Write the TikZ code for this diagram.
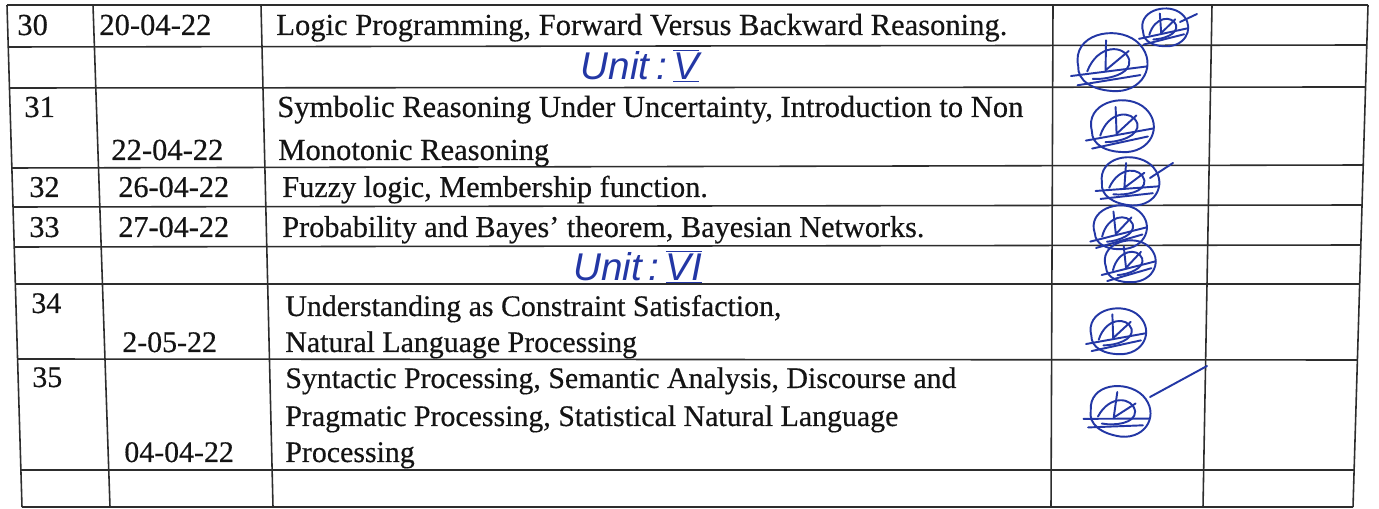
\documentclass[tikz,border=0pt]{standalone}
\usepackage{fontspec}
\setmainfont{Liberation Serif}[FakeBold=0.4]
\newfontfamily\handfont{Liberation Sans}
\definecolor{ink}{RGB}{35,55,165}
\definecolor{gridc}{RGB}{45,45,45}
\definecolor{txt}{RGB}{20,20,20}
\newcommand\barnum[1]{\ensuremath{\overline{\underline{\hbox{#1}}}}}
\tikzset{
  gridline/.style={draw=gridc, line width=0.9pt},
  celltop/.style={anchor=base west, inner sep=0pt, text=txt, font=\fontsize{17.4}{20}\selectfont},
  cellmid/.style={celltop, font=\fontsize{17.2}{20}\selectfont},
  celllow/.style={celltop, font=\fontsize{17}{20}\selectfont},
  hand/.style={anchor=center, inner sep=0pt, text=ink, font=\handfont\itshape\fontsize{22}{26}\selectfont},
  sigpen/.style={draw=ink, line width=1.1pt, line cap=round, line join=round},
  sig/.pic={
    \draw[sigpen] (-22,8) .. controls (-32,-12) and (-5,-26) .. (12,-19) .. controls (30,-11) and (28,12) .. (8,18) .. controls (-8,22) and (-20,18) .. (-22,8);
    \draw[sigpen] (-15,10) .. controls (-13,-10) and (5,-15) .. (11,-5) .. controls (15,4) and (0,12) .. (-10,14);
    \draw[sigpen] (-8,-14) -- (-3,6) -- (9,-11);
    \draw[sigpen] (-25,16) -- (24,-4);
    \draw[sigpen] (-19,21) -- (21,3);
  }
}
\begin{document}
\begin{tikzpicture}[x=0.02cm,y=-0.02cm]
\useasboundingbox[fill=white] (0,0) rectangle (1379,509);
% vertical rules
\coordinate (v0t) at (7,5);    \coordinate (v0b) at (22,507);
\coordinate (v1t) at (93,5);   \coordinate (v1b) at (110,507);
\coordinate (v2t) at (261,5);  \coordinate (v2b) at (273,507);
\coordinate (v3t) at (1053,5); \coordinate (v3b) at (1051,507);
\coordinate (v4t) at (1212,5); \coordinate (v4b) at (1203,507);
\coordinate (v5t) at (1368,5); \coordinate (v5b) at (1353,507);
\foreach \i in {0,...,5} \draw[gridline] (v\i t) -- (v\i b);
% horizontal rules
\foreach \xl/\yl/\xr/\yr in {7/5/1368/5, 8.3/47/1366.8/45, 9.5/88/1365.5/87, 11.9/168/1363.2/165, 13/207/1362/205, 14.2/247/1360.8/245, 15.3/284/1359.7/284, 17.6/359/1357.4/360, 20.9/470/1354.1/470, 22/507/1353/507}
  \draw[gridline] (\xl,\yl) -- (\xr,\yr);
% row 30
\node[celltop] (n30) at (17,35) {30};
\node[celltop] (d30) at (99,35) {20-04-22};
\node[celltop] (t30) at (276,35) {Logic Programming, Forward Versus Backward Reasoning.};
\node[hand] (u5) at (640,66) {Unit\,:\,\barnum{V}};
% row 31
\node[celltop] (n31) at (24,117) {31};
\node[celltop] (t31a) at (277,117) {Symbolic Reasoning Under Uncertainty, Introduction to Non};
\node[celltop] (d31) at (111,160) {22-04-22};
\node[celltop] (t31b) at (278,160) {Monotonic Reasoning};
% row 32
\node[cellmid] (n32) at (29,197) {32};
\node[cellmid] (d32) at (118,197) {26-04-22};
\node[cellmid] (t32) at (282,197) {Fuzzy logic, Membership function.};
% row 33
\node[cellmid] (n33) at (29,237) {33};
\node[cellmid] (d33) at (118,237) {27-04-22};
\node[cellmid] (t33) at (282,237) {Probability and Bayes’ theorem, Bayesian Networks.};
\node[hand] (u6) at (638,267) {Unit\,:\,\barnum{VI}};
% row 34
\node[celllow] (n34) at (31,313) {34};
\node[celllow] (t34a) at (285,316) {Understanding as Constraint Satisfaction,};
\node[celllow] (d34) at (122,352) {2-05-22};
\node[celllow] (t34b) at (285,352) {Natural Language Processing};
% row 35
\node[celllow] (n35) at (32,387) {35};
\node[celllow] (t35a) at (285,388) {Syntactic Processing, Semantic Analysis, Discourse and};
\node[celllow] (t35b) at (285,426) {Pragmatic Processing, Statistical Natural Language};
\node[celllow] (d35) at (124,462) {04-04-22};
\node[celllow] (t35c) at (285,462) {Processing};
% signatures
\pic[scale=0.95, rotate=-10] at (1165,28) {sig};
\draw[sigpen] (1180,22) -- (1197,14);
\pic[scale=1.45, rotate=-15] at (1112,63) {sig};
\pic[scale=1.3, rotate=-12] at (1122,127) {sig};
\pic[scale=1.2, rotate=-18] at (1130,182) {sig};
\draw[sigpen] (1150,178) -- (1173,163);
\pic[scale=1.1, rotate=-8] at (1120,228) {sig};
\pic[scale=1.05, rotate=-8] at (1130,262) {sig};
\pic[scale=1.15, rotate=-12] at (1118,332) {sig};
\pic[scale=1.25, rotate=-22] at (1120,412) {sig};
\draw[sigpen] (1150,397) -- (1207,366);
\end{tikzpicture}
\end{document}
